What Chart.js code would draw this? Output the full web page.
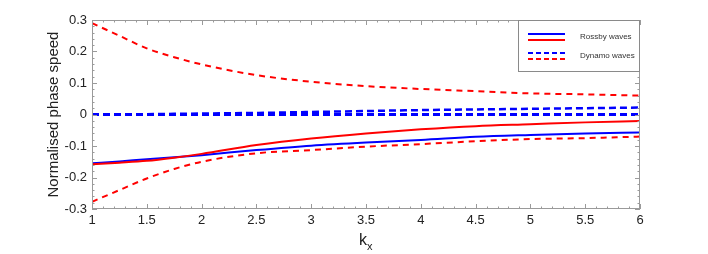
<!DOCTYPE html>
<html><head><meta charset="utf-8">
<script src="https://cdn.jsdelivr.net/npm/chart.js@4/dist/chart.umd.min.js"></script>
<style>html,body{margin:0;padding:0;background:#fff}#wrap{width:708px;height:254px}</style>
</head><body><div id="wrap"><canvas id="c" width="708" height="254"></canvas></div>
<script>
const kx = [1, 1.25, 1.5, 1.75, 2, 2.5, 3, 3.5, 4, 4.5, 5, 5.5, 6];
const rossbyBlue = [-0.155, -0.149, -0.142, -0.136, -0.129, -0.113, -0.099, -0.089, -0.081, -0.071, -0.065, -0.060, -0.057];
const rossbyRed  = [-0.158, -0.153, -0.147, -0.137, -0.125, -0.097, -0.076, -0.060, -0.047, -0.037, -0.031, -0.025, -0.021];
const dynamoBlue1 = [0, 0, 0, 0, 0, 0, 0, 0, 0, 0, 0, 0, 0];
const dynamoBlue2 = [0, 0.0005, 0.001, 0.002, 0.003, 0.005, 0.008, 0.011, 0.014, 0.016, 0.018, 0.020, 0.022];
const dynamoRedUp = [0.29, 0.25, 0.21, 0.182, 0.159, 0.125, 0.104, 0.090, 0.081, 0.074, 0.067, 0.064, 0.060];
const dynamoRedLo = [-0.277, -0.240, -0.203, -0.173, -0.150, -0.123, -0.113, -0.102, -0.094, -0.085, -0.078, -0.075, -0.070];
const xTicks = [1, 1.5, 2, 2.5, 3, 3.5, 4, 4.5, 5, 5.5, 6];
const yTicks = [-0.3, -0.2, -0.1, 0, 0.1, 0.2, 0.3];
const legendLabels = ['Rossby waves', 'Dynamo waves'];

const pts = arr => arr.map((v, i) => ({x: kx[i], y: v}));
const BLUE = '#0000ff', RED = '#ff0000';
function ds(arr, color, width, dash) {
  return {data: pts(arr), borderColor: color, backgroundColor: color, borderWidth: width,
    borderDash: dash || [], pointRadius: 0, fill: false, cubicInterpolationMode: 'monotone'};
}

const framePlugin = {
  id: 'frame',
  afterDraw(chart) {
    const {ctx, chartArea: a, scales: {x, y}} = chart;
    ctx.save();
    ctx.strokeStyle = '#9a9a9a';
    ctx.lineWidth = 1;
    ctx.strokeRect(a.left + 0.5, a.top + 0.5, a.right - a.left - 1, a.bottom - a.top - 1);
    ctx.beginPath();
    for (let i = 0; i <= 50; i++) {
      const v = 1 + i * 0.1;
      const px = Math.round(x.getPixelForValue(v)) + 0.5;
      const len = (i % 5 === 0) ? 5 : 2.5;
      ctx.moveTo(px, a.bottom); ctx.lineTo(px, a.bottom - len);
      ctx.moveTo(px, a.top); ctx.lineTo(px, a.top + len);
    }
    for (let i = 0; i <= 30; i++) {
      const v = -0.3 + i * 0.02;
      const py = Math.round(y.getPixelForValue(v)) + 0.5;
      const len = (i % 5 === 0) ? 5 : 2.5;
      ctx.moveTo(a.left, py); ctx.lineTo(a.left + len, py);
      ctx.moveTo(a.right, py); ctx.lineTo(a.right - len, py);
    }
    ctx.stroke();

    // legend
    const lx = 518, ly = a.top, lw = a.right - 518, lh = 51;
    ctx.fillStyle = '#fff';
    ctx.fillRect(lx, ly, lw, lh);
    ctx.strokeStyle = '#8a8a8a';
    ctx.strokeRect(lx + 0.5, ly + 0.5, lw - 1, lh);
    ctx.lineWidth = 2;
    ctx.strokeStyle = BLUE; ctx.beginPath(); ctx.moveTo(528, 34); ctx.lineTo(565, 34); ctx.stroke();
    ctx.strokeStyle = RED; ctx.beginPath(); ctx.moveTo(528, 40); ctx.lineTo(565, 40); ctx.stroke();
    ctx.setLineDash([5, 3]);
    ctx.strokeStyle = BLUE; ctx.beginPath(); ctx.moveTo(528, 53); ctx.lineTo(565, 53); ctx.stroke();
    ctx.strokeStyle = RED; ctx.beginPath(); ctx.moveTo(528, 59); ctx.lineTo(565, 59); ctx.stroke();
    ctx.setLineDash([]);
    ctx.fillStyle = '#333';
    ctx.font = '8px "Liberation Sans", Arial, sans-serif';
    ctx.textAlign = 'left'; ctx.textBaseline = 'middle';
    ctx.fillText(legendLabels[0], 580, 37);
    ctx.fillText(legendLabels[1], 580, 56);

    // axis titles
    ctx.fillStyle = '#222';
    ctx.font = '15px "Liberation Sans", Arial, sans-serif';
    ctx.save();
    ctx.translate(54, (a.top + a.bottom) / 2);
    ctx.rotate(-Math.PI / 2);
    ctx.textAlign = 'center'; ctx.textBaseline = 'middle';
    ctx.fillText('Normalised phase speed', 0, 0);
    ctx.restore();
    const cx = (a.left + a.right) / 2;
    ctx.font = '16px "Liberation Sans", Arial, sans-serif';
    ctx.textAlign = 'right'; ctx.textBaseline = 'alphabetic';
    ctx.fillText('k', cx + 1, 245);
    ctx.font = '11px "Liberation Sans", Arial, sans-serif';
    ctx.textAlign = 'left';
    ctx.fillText('x', cx + 1, 250);
    ctx.restore();
  }
};

new Chart(document.getElementById('c'), {
  type: 'line',
  data: {datasets: [
    ds(dynamoRedUp, RED, 2, [6, 5]),
    ds(dynamoRedLo, RED, 2, [6, 5]),
    ds(dynamoBlue1, BLUE, 3, [7, 4]),
    ds(dynamoBlue2, BLUE, 2.5, [7, 4]),
    ds(rossbyRed, RED, 2),
    ds(rossbyBlue, BLUE, 2)
  ]},
  options: {
    responsive: false, animation: false, devicePixelRatio: 1,
    layout: {padding: {left: 0, right: 68, top: 20, bottom: 0}},
    plugins: {legend: {display: false}, tooltip: {enabled: false}},
    scales: {
      x: {type: 'linear', min: 1, max: 6,
        afterFit(s) { s.height = 45; },
        afterBuildTicks(s) { s.ticks = xTicks.map(v => ({value: v})); },
        grid: {display: false, drawTicks: false, tickLength: 0}, border: {display: false},
        ticks: {padding: 4, color: '#222', font: {family: '"Liberation Sans", Arial, sans-serif', size: 13},
          maxRotation: 0, autoSkip: false, callback: v => String(Number(v.toFixed(2)))}},
      y: {type: 'linear', min: -0.3, max: 0.3,
        afterFit(s) { s.width = 92; },
        afterBuildTicks(s) { s.ticks = yTicks.map(v => ({value: v})); },
        grid: {display: false, drawTicks: false, tickLength: 0}, border: {display: false},
        ticks: {padding: 5, color: '#222', font: {family: '"Liberation Sans", Arial, sans-serif', size: 13},
          autoSkip: false, callback: v => String(Number(v.toFixed(2)))}}
    }
  },
  plugins: [framePlugin]
});
</script></body></html>
